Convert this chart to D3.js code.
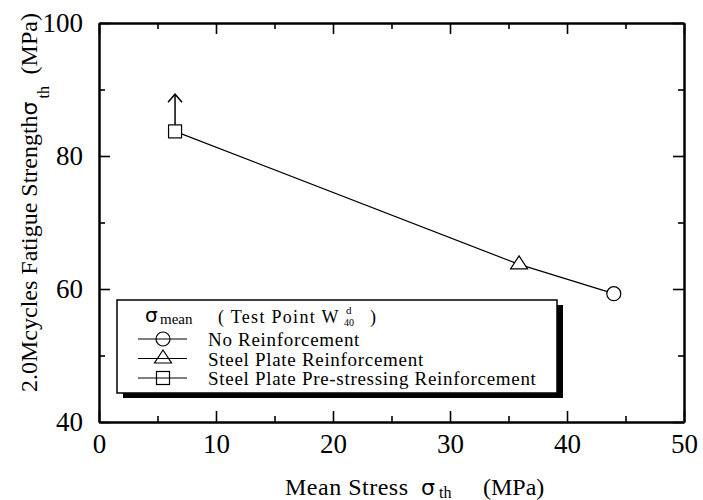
<!DOCTYPE html>
<html>
<head>
<meta charset="utf-8">
<script src="https://cdn.jsdelivr.net/npm/d3@7"></script>
<style>
    body { margin: 0; background: #fff; }
    svg text { fill: #000; }
    .axis path, .axis line { stroke: #000; }
    .axis path { stroke-width: 2; }
    .axis line { stroke-width: 1.6; }
</style>
</head>
<body>
<div id="chart"></div>
<script>
// data
const meanStress = [44.0, 35.9, 6.5];
const fatigueStrength = [59.3, 63.7, 83.7];
const seriesNames = ["No Reinforcement", "Steel Plate Reinforcement", "Steel Plate Pre-stressing Reinforcement"];
const markerShapes = ["circle", "triangle", "square"];
const xTicks = [0, 10, 20, 30, 40, 50];
const xMinorTicks = [5, 15, 25, 35, 45];
const yTicks = [40, 60, 80, 100];
const yMinorTicks = [50, 70, 90];
const arrowTo = 89.3; // lower bound arrow on the pre-stressing point

const serif = "Liberation Serif, DejaVu Serif, serif";
const sans = "DejaVu Sans, sans-serif";
const margin = {top: 23, right: 19, bottom: 78, left: 99};
const width = 703 - margin.left - margin.right;
const height = 500 - margin.top - margin.bottom;

const root = d3.select("#chart").append("svg")
    .attr("width", 703)
    .attr("height", 500)
    .attr("font-family", serif);

const svg = root.append("g")
    .attr("transform", `translate(${margin.left},${margin.top})`);

// scales
const x = d3.scaleLinear().domain([0, 50]).range([0, width]);
const y = d3.scaleLinear().domain([40, 100]).range([height, 0]);

// axes, ticks pointing inward on all four sides
function addAxis(axisFn, scale, ticks, size, transform, labels) {
    const ax = axisFn(scale).tickValues(ticks).tickSizeInner(size).tickSizeOuter(0);
    if (!labels) ax.tickFormat("");
    const g = svg.append("g").attr("class", "axis").attr("transform", transform).call(ax);
    g.attr("font-family", serif);
    return g;
}

const xb = addAxis(d3.axisBottom, x, xTicks, -11, `translate(0,${height})`, true);
addAxis(d3.axisBottom, x, xMinorTicks, -6, `translate(0,${height})`, false);
addAxis(d3.axisTop, x, xTicks, -11, "translate(0,0)", false);
addAxis(d3.axisTop, x, xMinorTicks, -6, "translate(0,0)", false);
const yl = addAxis(d3.axisLeft, y, yTicks, -11, "translate(0,0)", true);
addAxis(d3.axisLeft, y, yMinorTicks, -6, "translate(0,0)", false);
addAxis(d3.axisRight, y, yTicks, -11, `translate(${width},0)`, false);
addAxis(d3.axisRight, y, yMinorTicks, -6, `translate(${width},0)`, false);

xb.selectAll("text").attr("font-size", 27).attr("dy", "0.71em").attr("y", 12);
yl.selectAll("text").attr("font-size", 27).attr("x", -16).attr("dy", "0.3em");
svg.selectAll(".axis text").attr("fill", "#000");

// marker drawing
function drawMarker(g, shape, cx, cy) {
    if (shape === "circle") {
        g.append("circle").attr("cx", cx).attr("cy", cy).attr("r", 7);
    } else if (shape === "triangle") {
        g.append("path").attr("d", `M${cx},${cy - 8.5}L${cx + 8.5},${cy + 4.5}L${cx - 8.5},${cy + 4.5}Z`);
    } else {
        g.append("rect").attr("x", cx - 6.5).attr("y", cy - 6.5).attr("width", 13).attr("height", 13);
    }
}

// arrow
const ax0 = x(meanStress[2]);
const ay0 = y(fatigueStrength[2]) - 6.5;
const ay1 = y(arrowTo);
svg.append("line").attr("x1", ax0).attr("x2", ax0).attr("y1", ay0).attr("y2", ay1)
    .attr("stroke", "#000").attr("stroke-width", 1.5);
svg.append("path").attr("d", `M${ax0 - 7},${ay1 + 8}L${ax0},${ay1}L${ax0 + 7},${ay1 + 8}`)
    .attr("fill", "none").attr("stroke", "#000").attr("stroke-width", 1.5);

// connecting line
const line = d3.line().x((d, i) => x(meanStress[i])).y((d, i) => y(fatigueStrength[i]));
svg.append("path").datum(meanStress).attr("d", line)
    .attr("fill", "none").attr("stroke", "#000").attr("stroke-width", 1.2);

const marks = svg.append("g").attr("fill", "#fff").attr("stroke", "#000").attr("stroke-width", 1.2);
meanStress.forEach((d, i) => drawMarker(marks, markerShapes[i], x(d), y(fatigueStrength[i])));

// legend (page coordinates)
const lg = root.append("g").attr("transform", "translate(117,300)");
const lw = 440, lh = 93;
lg.append("rect").attr("x", 6).attr("y", 5).attr("width", lw).attr("height", lh).attr("fill", "#000");
lg.append("rect").attr("x", 0).attr("y", 0).attr("width", lw).attr("height", lh)
    .attr("fill", "#fff").attr("stroke", "#000").attr("stroke-width", 1.5);

lg.append("text").attr("x", 28).attr("y", 22).attr("font-size", 20).attr("font-family", sans).text("σ");
lg.append("text").attr("x", 43).attr("y", 24).attr("font-size", 15).text("mean");

// "( Test Point W d/40 )" as one text with stacked super/subscript
const tp = lg.append("text").attr("x", 101).attr("y", 23).attr("font-size", 18);
tp.append("tspan").style("letter-spacing", "1.3px").text("( Test Point W");
tp.append("tspan").attr("x", 229).attr("dy", -9).attr("font-size", 11).text("d");
tp.append("tspan").attr("x", 227).attr("dy", 12).attr("font-size", 10).text("40");
tp.append("tspan").attr("x", 253).attr("dy", -3).text(")");

const lmarks = lg.append("g").attr("fill", "#fff").attr("stroke", "#000").attr("stroke-width", 1.2);
seriesNames.forEach((name, i) => {
    const ry = 39 + i * 19.5;
    lg.append("line").attr("x1", 21).attr("x2", 70).attr("y1", ry).attr("y2", ry)
        .attr("stroke", "#000").attr("stroke-width", 1.2);
    drawMarker(lmarks, markerShapes[i], 46, ry);
    lg.append("text").attr("x", 91).attr("y", ry + 7).attr("font-size", 19)
        .style("letter-spacing", "0.7px").text(name);
});

// x axis title
const xTitle = root.append("g").attr("font-size", 24);
xTitle.append("text").attr("x", 285).attr("y", 495).style("letter-spacing", "0.5px").text("Mean Stress");
xTitle.append("text").attr("x", 421).attr("y", 495).attr("font-size", 22).attr("font-family", sans).text("σ");
xTitle.append("text").attr("x", 439).attr("y", 498).attr("font-size", 16).text("th");
xTitle.append("text").attr("x", 483).attr("y", 495).text("(MPa)");

// y axis title, rotated, pieces placed one after another
const yTitle = root.append("g").attr("transform", "translate(37,392)rotate(-90)").attr("font-size", 24);
const yMain = yTitle.append("text").attr("x", 0).attr("y", 0).text("2.0Mcycles Fatigue Strength");
const yMainLen = yMain.node().getComputedTextLength();
const ySig = yTitle.append("text").attr("x", yMainLen).attr("y", 0).attr("font-size", 22)
    .attr("font-family", sans).text("σ");
const ySigLen = ySig.node().getComputedTextLength();
yTitle.append("text").attr("x", yMainLen + ySigLen + 3).attr("y", 12).attr("font-size", 16).text("th");
yTitle.append("text").attr("x", yMainLen + ySigLen + 27).attr("y", 0).text("(MPa)");
</script>
</body>
</html>
